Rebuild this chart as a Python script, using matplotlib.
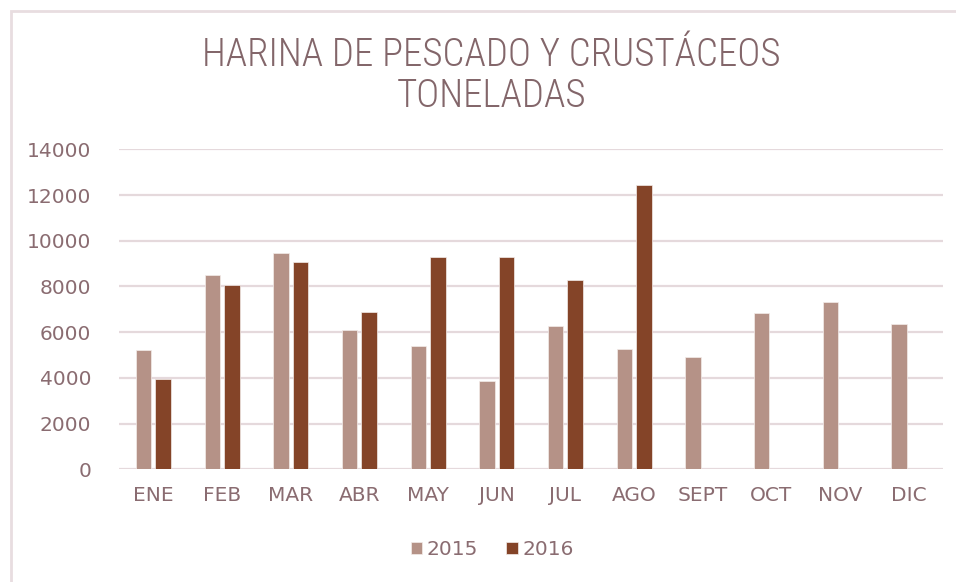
import numpy as np
import matplotlib
matplotlib.use("Agg")
import matplotlib.pyplot as plt
from matplotlib.patches import Rectangle

months = ["ENE", "FEB", "MAR", "ABR", "MAY", "JUN", "JUL", "AGO", "SEPT", "OCT", "NOV", "DIC"]
t2015 = [5200, 8500, 9450, 6100, 5400, 3850, 6250, 5250, 4900, 6820, 7320, 6370]
t2016 = [3960, 8050, 9060, 6870, 9280, 9280, 8270, 12430, np.nan, np.nan, np.nan, np.nan]
yticks = [0, 2000, 4000, 6000, 8000, 10000, 12000, 14000]

c2015 = "#B59287"
c2016 = "#844428"
txt = "#8A6C71"
grid = "#E5D9DC"

plt.rcParams["font.family"] = ["DejaVu Sans"]

fig = plt.figure(figsize=(9.56, 5.82), dpi=100)
ax = fig.add_axes([0.1245, 0.1936, 0.862, 0.5499])

x = np.arange(len(months))
w = 0.226
off = 0.142
ax.bar(x - off, t2015, w, color=c2015, edgecolor="#F3ECEA", linewidth=0.5, label="2015", zorder=3)
ax.bar(x + off, t2016, w, color=c2016, edgecolor="#F3ECEA", linewidth=0.5, label="2016", zorder=3)

ax.set_xlim(-0.5, len(months) - 0.5)
ax.set_ylim(0, 14000)
ax.set_yticks(yticks)
ax.set_yticklabels([str(v) for v in yticks])
ax.set_xticks(x)
ax.set_xticklabels(months)
ax.tick_params(axis="both", length=0, labelsize=14.5, colors=txt)
ax.tick_params(axis="y", pad=20)
ax.tick_params(axis="x", pad=12)
ax.yaxis.grid(True, color=grid, linewidth=1.6, zorder=0)
for s in ax.spines.values():
    s.set_visible(False)

title_font = dict(fontsize=28, color="#83666A", fontweight="light",
                  family=["Roboto Condensed", "DejaVu Sans"])
fig.text(0.514, 0.905, "HARINA DE PESCADO Y CRUSTÁCEOS", ha="center", va="center", **title_font)
fig.text(0.514, 0.834, "TONELADAS", ha="center", va="center", **title_font)

leg = fig.legend(loc="center", bbox_to_anchor=(0.515, 0.055), ncol=2, frameon=False,
                 fontsize=14.5, handlelength=0.55, handleheight=0.55, handletextpad=0.25,
                 columnspacing=1.4)
for t in leg.get_texts():
    t.set_color(txt)

fig.patches.append(Rectangle((11 / 956, -0.1), 1.2, 1 - 11 / 582 + 0.1, transform=fig.transFigure,
                             fill=False, edgecolor="#E8DDE0", linewidth=2))

fig.savefig("out.png", dpi=100)
